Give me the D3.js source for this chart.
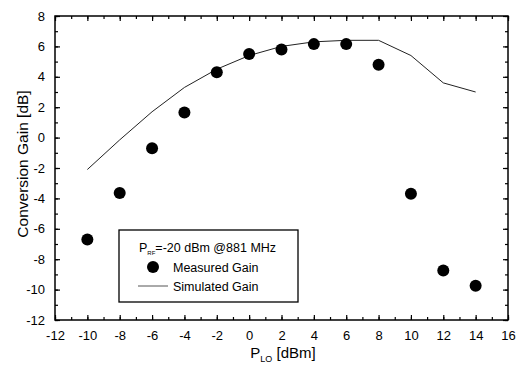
<!DOCTYPE html>
<html>
<head>
<meta charset="utf-8">
<script src="https://cdn.jsdelivr.net/npm/d3@7"></script>
<style>
  body { margin: 0; background: #fff; }
  text { font-family: "Liberation Sans", Arial, sans-serif; fill: #000; }
</style>
</head>
<body>
<svg id="chart" width="517" height="370"></svg>
<script>
// P_LO sweep, dBm
var ploValues = [-10, -8, -6, -4, -2, 0, 2, 4, 6, 8, 10, 12, 14];
var measuredGain = [-6.7, -3.65, -0.7, 1.65, 4.3, 5.5, 5.8, 6.15, 6.15, 4.8, -3.7, -8.75, -9.75];
var simulatedGain = [-2.1, -0.15, 1.7, 3.3, 4.5, 5.4, 6.0, 6.3, 6.4, 6.4, 5.4, 3.6, 3.0];
var xTicks = [-12, -10, -8, -6, -4, -2, 0, 2, 4, 6, 8, 10, 12, 14, 16];
var yTicks = [-12, -10, -8, -6, -4, -2, 0, 2, 4, 6, 8];

var margin = {left: 55, right: 9, top: 16, bottom: 50};
var width = 517, height = 370;

var svg = d3.select("#chart");

var x = d3.scaleLinear().domain([-12, 16]).range([margin.left, width - margin.right]);
var y = d3.scaleLinear().domain([-12, 8]).range([height - margin.bottom, margin.top]);

var minorX = d3.range(-12, 16.1, 1);
var minorY = d3.range(-12, 8.1, 1);

// plain hyphen minus like the original figure
var fmt = function(d) { return String(d); };

// frame
svg.append("rect")
    .attr("x", x(-12)).attr("y", y(8))
    .attr("width", x(16) - x(-12)).attr("height", y(-12) - y(8))
    .attr("fill", "none").attr("stroke", "#000").attr("stroke-width", 1.5);

function styleAxis(g) {
    g.select(".domain").remove();
    g.selectAll(".tick line").attr("stroke", "#000").attr("stroke-width", 1.2);
    g.selectAll(".tick text").style("font-size", "13px").style("font-family", "'Liberation Sans', Arial, sans-serif");
}

// bottom axis, ticks pointing in
svg.append("g")
    .attr("transform", "translate(0," + y(-12) + ")")
    .call(d3.axisBottom(x).tickValues(minorX).tickSize(-3).tickFormat(""))
    .call(styleAxis);
svg.append("g")
    .attr("transform", "translate(0," + y(-12) + ")")
    .call(d3.axisBottom(x).tickValues(xTicks).tickSize(-5).tickPadding(11).tickFormat(fmt))
    .call(styleAxis);

// top axis
svg.append("g")
    .attr("transform", "translate(0," + y(8) + ")")
    .call(d3.axisTop(x).tickValues(minorX).tickSize(-3).tickFormat(""))
    .call(styleAxis);
svg.append("g")
    .attr("transform", "translate(0," + y(8) + ")")
    .call(d3.axisTop(x).tickValues(xTicks).tickSize(-5).tickFormat(""))
    .call(styleAxis);

// left axis
svg.append("g")
    .attr("transform", "translate(" + x(-12) + ",0)")
    .call(d3.axisLeft(y).tickValues(minorY).tickSize(-3).tickFormat(""))
    .call(styleAxis);
svg.append("g")
    .attr("transform", "translate(" + x(-12) + ",0)")
    .call(d3.axisLeft(y).tickValues(yTicks).tickSize(-5).tickPadding(10).tickFormat(fmt))
    .call(styleAxis);

// right axis
svg.append("g")
    .attr("transform", "translate(" + x(16) + ",0)")
    .call(d3.axisRight(y).tickValues(minorY).tickSize(-3).tickFormat(""))
    .call(styleAxis);
svg.append("g")
    .attr("transform", "translate(" + x(16) + ",0)")
    .call(d3.axisRight(y).tickValues(yTicks).tickSize(-5).tickFormat(""))
    .call(styleAxis);

// simulated line
var line = d3.line()
    .x(function(d, i) { return x(ploValues[i]); })
    .y(function(d) { return y(d); });

svg.append("path")
    .datum(simulatedGain)
    .attr("d", line)
    .attr("fill", "none")
    .attr("stroke", "#222")
    .attr("stroke-width", 1);

// measured dots
svg.selectAll("circle.meas")
    .data(measuredGain)
  .enter().append("circle")
    .attr("class", "meas")
    .attr("cx", function(d, i) { return x(ploValues[i]); })
    .attr("cy", function(d) { return y(d); })
    .attr("r", 6)
    .attr("fill", "#000");

// legend
var lg = svg.append("g");
lg.append("rect")
    .attr("x", 119).attr("y", 230).attr("width", 179).attr("height", 72)
    .attr("fill", "#fff").attr("stroke", "#000").attr("stroke-width", 1.3);
var t1 = lg.append("text").attr("x", 139).attr("y", 252).style("font-size", "12.5px");
t1.append("tspan").text("P");
t1.append("tspan").attr("dy", 3).style("font-size", "6px").text("RF");
t1.append("tspan").attr("dy", -3).text("=-20 dBm @881 MHz");
lg.append("circle").attr("cx", 153).attr("cy", 267).attr("r", 6).attr("fill", "#000");
lg.append("text").attr("x", 173).attr("y", 272).style("font-size", "12.5px").text("Measured Gain");
lg.append("line").attr("x1", 138).attr("x2", 168).attr("y1", 286).attr("y2", 286)
    .attr("stroke", "#555").attr("stroke-width", 1);
lg.append("text").attr("x", 173).attr("y", 291).style("font-size", "12.5px").text("Simulated Gain");

// axis titles
var xt = svg.append("text")
    .attr("x", 283).attr("y", 358)
    .attr("text-anchor", "middle")
    .style("font-size", "15px");
xt.append("tspan").text("P");
xt.append("tspan").attr("dy", 4).style("font-size", "9px").text("LO");
xt.append("tspan").attr("dy", -4).text(" [dBm]");

svg.append("text")
    .attr("transform", "translate(28,164) rotate(-90)")
    .attr("text-anchor", "middle")
    .style("font-size", "15.5px")
    .text("Conversion Gain [dB]");
</script>
</body>
</html>
